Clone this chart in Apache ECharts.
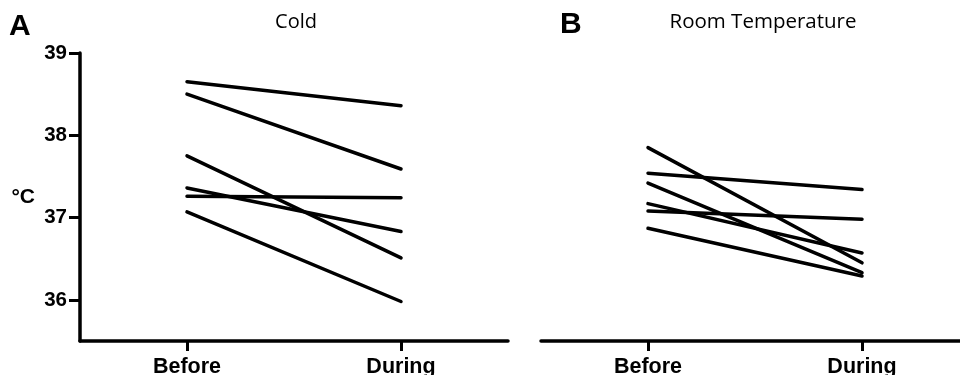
<!DOCTYPE html>
<html>
<head>
<meta charset="utf-8">
<script src="https://cdn.jsdelivr.net/npm/echarts@6/dist/echarts.min.js"></script>
<style>html,body{margin:0;padding:0;background:#fff;}#c{width:960px;height:375px;}</style>
</head>
<body>
<div id="c"></div>
<script>
const categories = ['Before', 'During'];
const yTicks = [36, 37, 38, 39];
const coldBefore = [38.65, 38.50, 37.75, 37.36, 37.26, 37.07];
const coldDuring = [38.36, 37.59, 36.51, 36.83, 37.24, 35.98];
const roomBefore = [37.85, 37.54, 37.42, 37.17, 37.08, 36.87];
const roomDuring = [36.45, 37.34, 36.33, 36.57, 36.98, 36.29];

const chart = echarts.init(document.getElementById('c'), null, {renderer: 'canvas'});
const boldFont = 'Liberation Sans, Arial, Helvetica, sans-serif';

function xAxisCfg(gi) {
  return {
    type: 'category', gridIndex: gi, data: categories, boundaryGap: true,
    axisLine: {show: true, lineStyle: {color: '#000', width: 3.5}},
    axisTick: {show: true, alignWithLabel: true, length: 10, lineStyle: {color: '#000', width: 3}},
    axisLabel: {color: '#000', fontSize: 21.5, fontWeight: 'bold', fontFamily: boldFont, margin: 15},
    splitLine: {show: false}
  };
}
function yAxisCfg(gi, show) {
  return {
    type: 'value', gridIndex: gi, min: 35.5, max: 39, show: show,
    axisLine: {show: true, lineStyle: {color: '#000', width: 3.5}},
    axisTick: {show: true, length: 11, customValues: yTicks, lineStyle: {color: '#000', width: 3}},
    axisLabel: {color: '#000', fontSize: 20.5, fontWeight: 'bold', fontFamily: boldFont, margin: 13,
      customValues: yTicks},
    splitLine: {show: false}
  };
}

const series = [];
function addPanel(before, during, gi) {
  for (let i = 0; i < before.length; i++) {
    series.push({
      type: 'line', xAxisIndex: gi, yAxisIndex: gi,
      data: [before[i], during[i]],
      symbol: 'none', silent: true, animation: false,
      lineStyle: {color: '#000', width: 3.5, cap: 'round'}
    });
  }
}
addPanel(coldBefore, coldDuring, 0);
addPanel(roomBefore, roomDuring, 1);

chart.setOption({
  animation: false,
  grid: [
    {left: 80, top: 53, width: 428, height: 288, containLabel: false, outerBoundsMode: 'none'},
    {left: 541, top: 53, width: 428, height: 288, containLabel: false, outerBoundsMode: 'none'}
  ],
  xAxis: [xAxisCfg(0), xAxisCfg(1)],
  yAxis: [yAxisCfg(0, true), yAxisCfg(1, false)],
  series: series,
  graphic: [
    {type: 'text', x: 9, y: 27, style: {text: 'A', font: 'bold 30px ' + boldFont, fill: '#000', textAlign: 'left', textVerticalAlign: 'middle'}},
    {type: 'text', x: 560, y: 25, style: {text: 'B', font: 'bold 30px ' + boldFont, fill: '#000', textAlign: 'left', textVerticalAlign: 'middle'}},
    {type: 'text', x: 296, y: 22, style: {text: 'Cold', font: '20px "Open Sans", sans-serif', fill: '#000', textAlign: 'center', textVerticalAlign: 'middle'}},
    {type: 'text', x: 763, y: 22, style: {text: 'Room Temperature', font: '20.5px "Open Sans", sans-serif', fill: '#000', textAlign: 'center', textVerticalAlign: 'middle'}},
    {type: 'text', x: 35, y: 197, style: {text: '°C', font: 'bold 21px ' + boldFont, fill: '#000', textAlign: 'right', textVerticalAlign: 'middle'}}
  ]
});
</script>
</body>
</html>
